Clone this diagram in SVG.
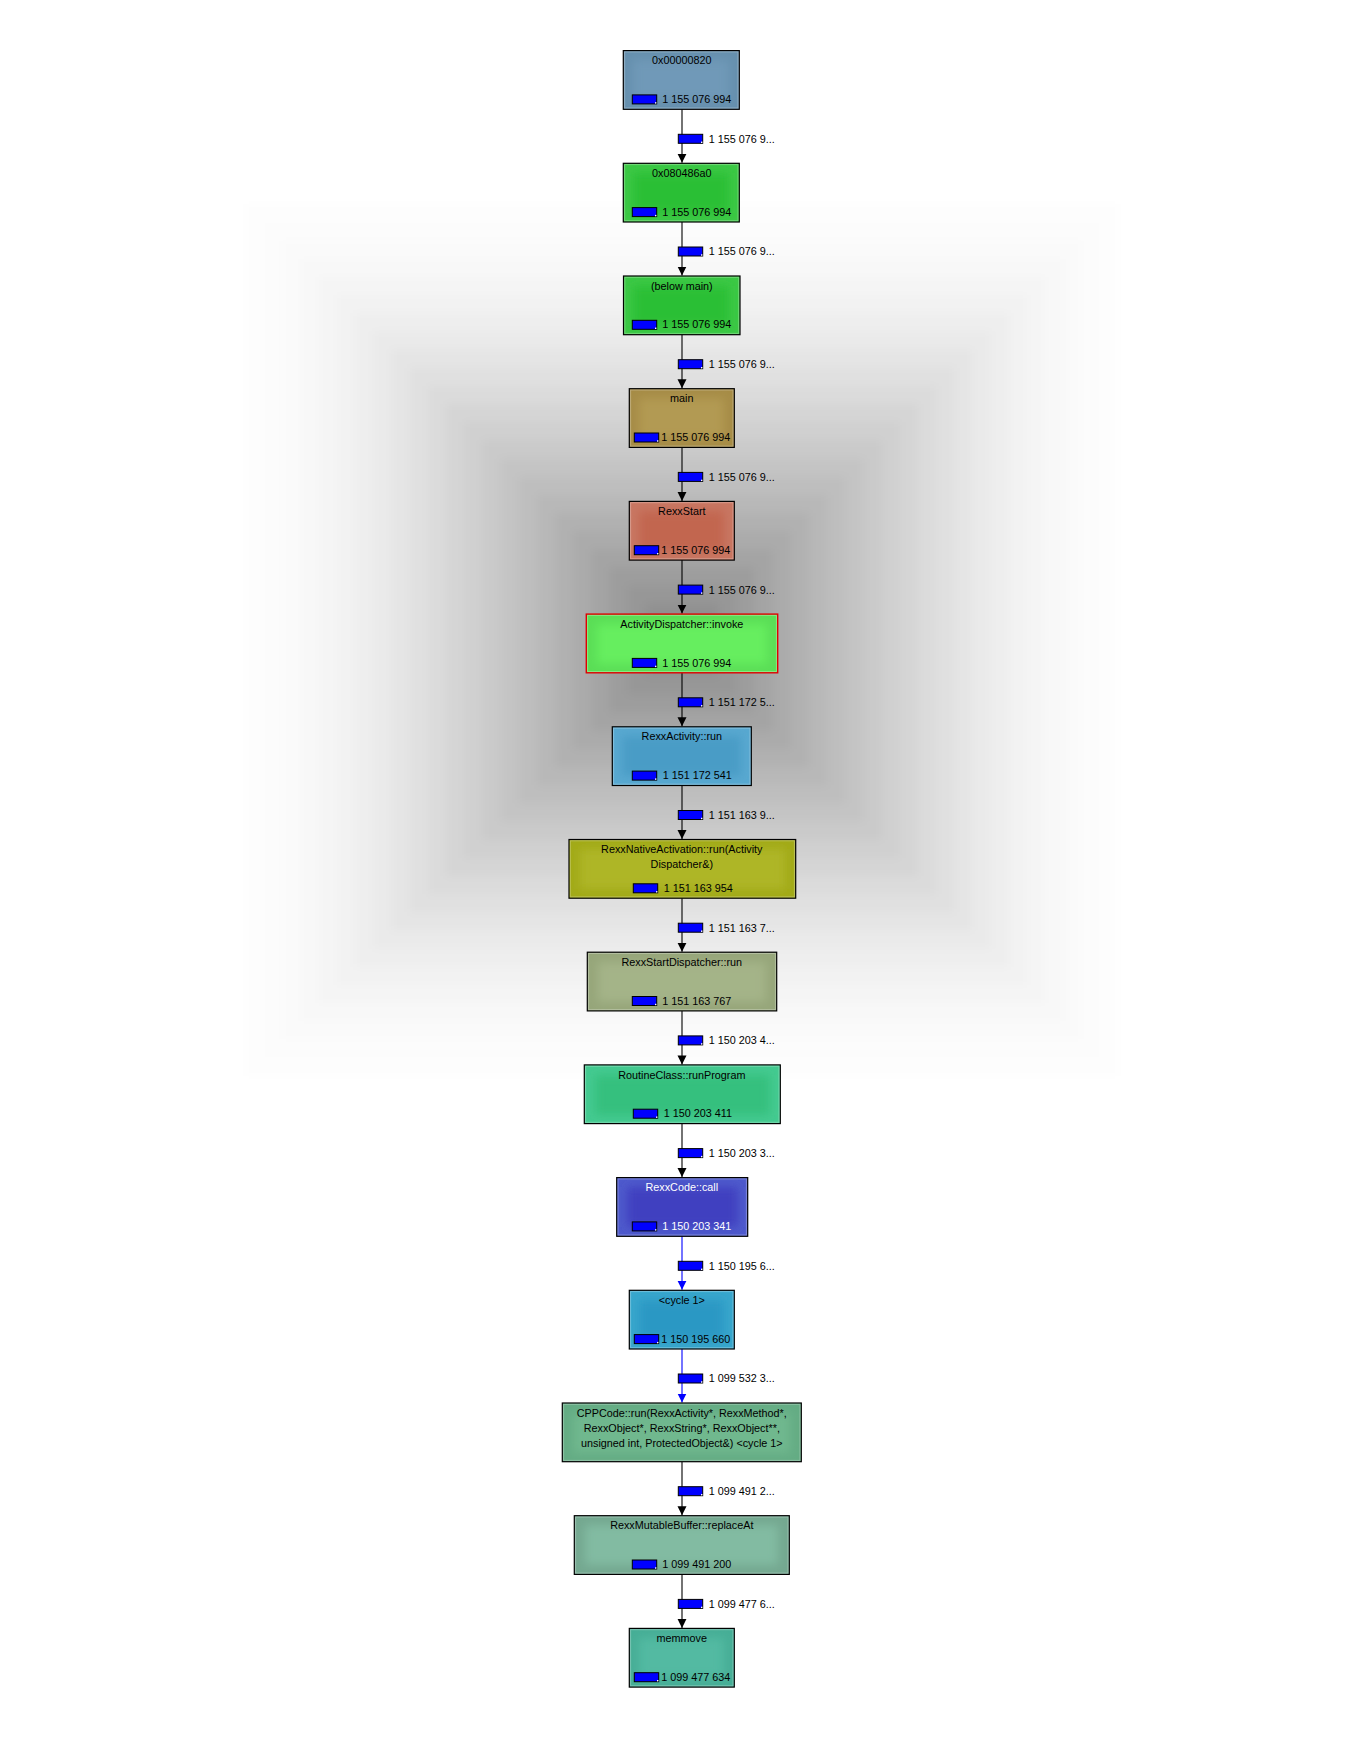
<svg xmlns="http://www.w3.org/2000/svg" width="1364" height="1739" viewBox="0 0 1364 1739">
<style>
text{font-family:"Liberation Sans",Arial,sans-serif;font-size:10.8px;fill:#000}
.t{text-anchor:middle}
.w{fill:#fff}
.box{stroke:#000;stroke-width:1.2}
.red{stroke:#e00000;stroke-width:1.4}
.hl{fill:none;stroke:#fff;stroke-opacity:.28;stroke-width:1}
.bar{fill:#0000ff;stroke:#000;stroke-width:1}
.dot{fill:#fff}
.e{stroke:#000;stroke-width:1.1;fill:none;marker-end:url(#ah)}
.eb{stroke:#0000ff;stroke-width:1.1;fill:none;marker-end:url(#ahb)}
</style>
<defs>
<filter id="blur" x="-20%" y="-20%" width="140%" height="140%"><feGaussianBlur stdDeviation="5"/></filter>
<filter id="bgb" x="-10%" y="-10%" width="120%" height="120%"><feGaussianBlur stdDeviation="5"/></filter>
<marker id="ah" markerUnits="userSpaceOnUse" markerWidth="10" markerHeight="10" refX="9" refY="4.5" orient="auto"><path d="M0,0 L9,4.5 L0,9 Z" fill="#000"/></marker>
<marker id="ahb" markerUnits="userSpaceOnUse" markerWidth="10" markerHeight="10" refX="9" refY="4.5" orient="auto"><path d="M0,0 L9,4.5 L0,9 Z" fill="#0000ff"/></marker>
</defs>
<rect width="1364" height="1739" fill="#fff"/>
<g id="background" filter="url(#bgb)" fill="#000">
<rect x="246" y="204" width="872" height="872" fill-opacity="0.0072"/>
<rect x="264.2" y="222.2" width="835.7" height="835.7" fill-opacity="0.009"/>
<rect x="282.3" y="240.3" width="799.3" height="799.3" fill-opacity="0.0108"/>
<rect x="300.5" y="258.5" width="763" height="763" fill-opacity="0.0126"/>
<rect x="318.7" y="276.7" width="726.7" height="726.7" fill-opacity="0.0144"/>
<rect x="336.8" y="294.8" width="690.3" height="690.3" fill-opacity="0.0162"/>
<rect x="355" y="313" width="654" height="654" fill-opacity="0.018"/>
<rect x="373.2" y="331.2" width="617.7" height="617.7" fill-opacity="0.0198"/>
<rect x="391.3" y="349.3" width="581.3" height="581.3" fill-opacity="0.0216"/>
<rect x="409.5" y="367.5" width="545" height="545" fill-opacity="0.0234"/>
<rect x="427.7" y="385.7" width="508.7" height="508.7" fill-opacity="0.0252"/>
<rect x="445.8" y="403.8" width="472.3" height="472.3" fill-opacity="0.027"/>
<rect x="464" y="422" width="436" height="436" fill-opacity="0.0288"/>
<rect x="482.2" y="440.2" width="399.7" height="399.7" fill-opacity="0.0306"/>
<rect x="500.3" y="458.3" width="363.3" height="363.3" fill-opacity="0.0324"/>
<rect x="518.5" y="476.5" width="327" height="327" fill-opacity="0.0342"/>
<rect x="536.7" y="494.7" width="290.7" height="290.7" fill-opacity="0.036"/>
<rect x="554.8" y="512.8" width="254.3" height="254.3" fill-opacity="0.0378"/>
<rect x="573" y="531" width="218" height="218" fill-opacity="0.0396"/>
<rect x="591.2" y="549.2" width="181.7" height="181.7" fill-opacity="0.0414"/>
<rect x="609.3" y="567.3" width="145.3" height="145.3" fill-opacity="0.0432"/>
<rect x="627.5" y="585.5" width="109" height="109" fill-opacity="0.045"/>
<rect x="645.7" y="603.7" width="72.7" height="72.7" fill-opacity="0.0468"/>
<rect x="663.8" y="621.8" width="36.3" height="36.3" fill-opacity="0.0486"/>
</g>
<g id="connectors">
<line class="e" x1="682" y1="109.3" x2="682" y2="162.8"/>
<line class="e" x1="682" y1="222" x2="682" y2="275.5"/>
<line class="e" x1="682" y1="334.7" x2="682" y2="388.2"/>
<line class="e" x1="682" y1="447.4" x2="682" y2="500.9"/>
<line class="e" x1="682" y1="560.1" x2="682" y2="613.6"/>
<line class="e" x1="682" y1="672.8" x2="682" y2="726.3"/>
<line class="e" x1="682" y1="785.5" x2="682" y2="839"/>
<line class="e" x1="682" y1="898.2" x2="682" y2="951.7"/>
<line class="e" x1="682" y1="1010.9" x2="682" y2="1064.4"/>
<line class="e" x1="682" y1="1123.6" x2="682" y2="1177.1"/>
<line class="eb" x1="682" y1="1236.3" x2="682" y2="1289.8"/>
<line class="eb" x1="682" y1="1349" x2="682" y2="1402.5"/>
<line class="e" x1="682" y1="1461.7" x2="682" y2="1515.2"/>
<line class="e" x1="682" y1="1574.4" x2="682" y2="1627.9"/>
<g id="edge-labels">
<rect class="bar" x="678.3" y="134.3" width="24.4" height="9"/><rect class="dot" x="701" y="141.6" width="1.4" height="1.4"/><text x="708.7" y="142.7">1 155 076 9...</text>
<rect class="bar" x="678.3" y="247" width="24.4" height="9"/><rect class="dot" x="701" y="254.3" width="1.4" height="1.4"/><text x="708.7" y="255.4">1 155 076 9...</text>
<rect class="bar" x="678.3" y="359.7" width="24.4" height="9"/><rect class="dot" x="701" y="367" width="1.4" height="1.4"/><text x="708.7" y="368.1">1 155 076 9...</text>
<rect class="bar" x="678.3" y="472.4" width="24.4" height="9"/><rect class="dot" x="701" y="479.7" width="1.4" height="1.4"/><text x="708.7" y="480.8">1 155 076 9...</text>
<rect class="bar" x="678.3" y="585.1" width="24.4" height="9"/><rect class="dot" x="701" y="592.4" width="1.4" height="1.4"/><text x="708.7" y="593.5">1 155 076 9...</text>
<rect class="bar" x="678.3" y="697.8" width="24.4" height="9"/><rect class="dot" x="701" y="705.1" width="1.4" height="1.4"/><text x="708.7" y="706.2">1 151 172 5...</text>
<rect class="bar" x="678.3" y="810.5" width="24.4" height="9"/><rect class="dot" x="701" y="817.8" width="1.4" height="1.4"/><text x="708.7" y="818.9">1 151 163 9...</text>
<rect class="bar" x="678.3" y="923.2" width="24.4" height="9"/><rect class="dot" x="701" y="930.5" width="1.4" height="1.4"/><text x="708.7" y="931.6">1 151 163 7...</text>
<rect class="bar" x="678.3" y="1035.9" width="24.4" height="9"/><rect class="dot" x="701" y="1043.2" width="1.4" height="1.4"/><text x="708.7" y="1044.3">1 150 203 4...</text>
<rect class="bar" x="678.3" y="1148.6" width="24.4" height="9"/><rect class="dot" x="701" y="1155.9" width="1.4" height="1.4"/><text x="708.7" y="1157">1 150 203 3...</text>
<rect class="bar" x="678.3" y="1261.3" width="24.4" height="9"/><rect class="dot" x="701" y="1268.6" width="1.4" height="1.4"/><text x="708.7" y="1269.7">1 150 195 6...</text>
<rect class="bar" x="678.3" y="1374" width="24.4" height="9"/><rect class="dot" x="701" y="1381.3" width="1.4" height="1.4"/><text x="708.7" y="1382.4">1 099 532 3...</text>
<rect class="bar" x="678.3" y="1486.7" width="24.4" height="9"/><rect class="dot" x="701" y="1494" width="1.4" height="1.4"/><text x="708.7" y="1495.1">1 099 491 2...</text>
<rect class="bar" x="678.3" y="1599.4" width="24.4" height="9"/><rect class="dot" x="701" y="1606.7" width="1.4" height="1.4"/><text x="708.7" y="1607.8">1 099 477 6...</text>
</g>
</g>
<g id="n0">
<rect class="box" x="623.3" y="50.6" width="116" height="58.7" fill="#6690ae"/>
<rect x="633" y="60" width="96" height="40" fill="#6f99b8" filter="url(#blur)"/>
<rect class="hl" x="624.6" y="51.9" width="113.4" height="56.1"/>
<text class="t" x="681.8" y="64.2">0x00000820</text>
<rect class="bar" x="632.3" y="94.9" width="24.4" height="9"/><rect class="dot" x="655" y="102.2" width="1.4" height="1.4"/>
<text x="662.3" y="103">1 155 076 994</text>
</g>
<g id="n1">
<rect class="box" x="623.3" y="163.3" width="116" height="58.7" fill="#3cc845"/>
<rect x="633" y="173" width="96" height="40" fill="#2cbf35" filter="url(#blur)"/>
<rect class="hl" x="624.6" y="164.6" width="113.4" height="56.1"/>
<text class="t" x="681.8" y="176.9">0x080486a0</text>
<rect class="bar" x="632.3" y="207.6" width="24.4" height="9"/><rect class="dot" x="655" y="214.9" width="1.4" height="1.4"/>
<text x="662.3" y="215.7">1 155 076 994</text>
</g>
<g id="n2">
<rect class="box" x="623.5" y="276" width="116.5" height="58.7" fill="#3cc845"/>
<rect x="633" y="286" width="96" height="40" fill="#2cbf35" filter="url(#blur)"/>
<rect class="hl" x="624.8" y="277.3" width="113.9" height="56.1"/>
<text class="t" x="681.8" y="289.6">(below main)</text>
<rect class="bar" x="632.3" y="320.3" width="24.4" height="9"/><rect class="dot" x="655" y="327.6" width="1.4" height="1.4"/>
<text x="662.3" y="328.4">1 155 076 994</text>
</g>
<g id="n3">
<rect class="box" x="629.3" y="388.7" width="105" height="58.7" fill="#a68c46"/>
<rect x="639" y="398" width="85" height="40" fill="#b29a52" filter="url(#blur)"/>
<rect class="hl" x="630.6" y="390" width="102.4" height="56.1"/>
<text class="t" x="681.8" y="402.3">main</text>
<rect class="bar" x="634.3" y="433" width="24.4" height="9"/><rect class="dot" x="657" y="440.3" width="1.4" height="1.4"/>
<text x="661.3" y="441.1">1 155 076 994</text>
</g>
<g id="n4">
<rect class="box" x="629.3" y="501.4" width="105" height="58.7" fill="#c87662"/>
<rect x="639" y="511" width="85" height="40" fill="#c2664f" filter="url(#blur)"/>
<rect class="hl" x="630.6" y="502.7" width="102.4" height="56.1"/>
<text class="t" x="681.8" y="515">RexxStart</text>
<rect class="bar" x="634.3" y="545.7" width="24.4" height="9"/><rect class="dot" x="657" y="553" width="1.4" height="1.4"/>
<text x="661.3" y="553.8">1 155 076 994</text>
</g>
<g id="n5">
<rect class="red" x="586.3" y="614.1" width="191.4" height="58.7" fill="#5ade56"/>
<rect x="597" y="624" width="170" height="40" fill="#66ee5e" filter="url(#blur)"/>
<rect class="hl" x="587.6" y="615.4" width="188.8" height="56.1"/>
<text class="t" x="681.8" y="627.7">ActivityDispatcher::invoke</text>
<rect class="bar" x="632.3" y="658.4" width="24.4" height="9"/><rect class="dot" x="655" y="665.7" width="1.4" height="1.4"/>
<text x="662.3" y="666.5">1 155 076 994</text>
</g>
<g id="n6">
<rect class="box" x="612.3" y="726.8" width="139" height="58.7" fill="#58a8d0"/>
<rect x="622" y="736" width="119" height="40" fill="#4a9cc6" filter="url(#blur)"/>
<rect class="hl" x="613.6" y="728.1" width="136.4" height="56.1"/>
<text class="t" x="681.8" y="740.4">RexxActivity::run</text>
<rect class="bar" x="632.3" y="771.1" width="24.4" height="9"/><rect class="dot" x="655" y="778.4" width="1.4" height="1.4"/>
<text x="662.7" y="779.2">1 151 172 541</text>
</g>
<g id="n7">
<rect class="box" x="569" y="839.5" width="226.7" height="58.7" fill="#a2aa18"/>
<rect x="580" y="849" width="205" height="40" fill="#aeb626" filter="url(#blur)"/>
<rect class="hl" x="570.3" y="840.8" width="224.1" height="56.1"/>
<text class="t" x="681.8" y="853.1">RexxNativeActivation::run(Activity</text>
<text class="t" x="681.8" y="868.1">Dispatcher&amp;)</text>
<rect class="bar" x="633.3" y="883.8" width="24.4" height="9"/><rect class="dot" x="656" y="891.1" width="1.4" height="1.4"/>
<text x="663.7" y="891.9">1 151 163 954</text>
</g>
<g id="n8">
<rect class="box" x="587.3" y="952.2" width="189.4" height="58.7" fill="#96a67a"/>
<rect x="598" y="962" width="168" height="40" fill="#a4b488" filter="url(#blur)"/>
<rect class="hl" x="588.6" y="953.5" width="186.8" height="56.1"/>
<text class="t" x="681.8" y="965.8">RexxStartDispatcher::run</text>
<rect class="bar" x="632.3" y="996.5" width="24.4" height="9"/><rect class="dot" x="655" y="1003.8" width="1.4" height="1.4"/>
<text x="662.3" y="1004.6">1 151 163 767</text>
</g>
<g id="n9">
<rect class="box" x="584.3" y="1064.9" width="196" height="58.7" fill="#44ca90"/>
<rect x="595" y="1075" width="175" height="40" fill="#36c07e" filter="url(#blur)"/>
<rect class="hl" x="585.6" y="1066.2" width="193.4" height="56.1"/>
<text class="t" x="681.8" y="1078.5">RoutineClass::runProgram</text>
<rect class="bar" x="633.3" y="1109.2" width="24.4" height="9"/><rect class="dot" x="656" y="1116.5" width="1.4" height="1.4"/>
<text x="663.7" y="1117.3">1 150 203 411</text>
</g>
<g id="n10">
<rect class="box" x="616.7" y="1177.6" width="131" height="58.7" fill="#4e5acc"/>
<rect x="627" y="1187" width="111" height="40" fill="#4040c0" filter="url(#blur)"/>
<rect class="hl" x="618" y="1178.9" width="128.4" height="56.1"/>
<text class="t w" x="681.8" y="1191.2">RexxCode::call</text>
<rect class="bar" x="632.3" y="1221.9" width="24.4" height="9"/><rect class="dot" x="655" y="1229.2" width="1.4" height="1.4"/>
<text class="w" x="662.3" y="1230">1 150 203 341</text>
</g>
<g id="n11">
<rect class="box" x="629.3" y="1290.3" width="105" height="58.7" fill="#38a6cc"/>
<rect x="639" y="1300" width="85" height="40" fill="#2c98c4" filter="url(#blur)"/>
<rect class="hl" x="630.6" y="1291.6" width="102.4" height="56.1"/>
<text class="t" x="681.8" y="1303.9">&lt;cycle 1&gt;</text>
<rect class="bar" x="634.3" y="1334.6" width="24.4" height="9"/><rect class="dot" x="657" y="1341.9" width="1.4" height="1.4"/>
<text x="661.3" y="1342.7">1 150 195 660</text>
</g>
<g id="n12">
<rect class="box" x="562.3" y="1403" width="239" height="58.7" fill="#64ac84"/>
<rect x="573" y="1413" width="217" height="40" fill="#70b88e" filter="url(#blur)"/>
<rect class="hl" x="563.6" y="1404.3" width="236.4" height="56.1"/>
<text class="t" x="681.8" y="1416.7">CPPCode::run(RexxActivity*, RexxMethod*,</text>
<text class="t" x="681.8" y="1431.7">RexxObject*, RexxString*, RexxObject**,</text>
<text class="t" x="681.8" y="1446.9">unsigned int, ProtectedObject&amp;) &lt;cycle 1&gt;</text>
</g>
<g id="n13">
<rect class="box" x="574.3" y="1515.7" width="215" height="58.7" fill="#74a890"/>
<rect x="585" y="1525" width="193" height="40" fill="#82bba2" filter="url(#blur)"/>
<rect class="hl" x="575.6" y="1517" width="212.4" height="56.1"/>
<text class="t" x="681.8" y="1529.3">RexxMutableBuffer::replaceAt</text>
<rect class="bar" x="632.3" y="1560" width="24.4" height="9"/><rect class="dot" x="655" y="1567.3" width="1.4" height="1.4"/>
<text x="662.3" y="1568.1">1 099 491 200</text>
</g>
<g id="n14">
<rect class="box" x="629.3" y="1628.4" width="105" height="58.7" fill="#46ae96"/>
<rect x="639" y="1638" width="85" height="40" fill="#52baa2" filter="url(#blur)"/>
<rect class="hl" x="630.6" y="1629.7" width="102.4" height="56.1"/>
<text class="t" x="681.8" y="1642">memmove</text>
<rect class="bar" x="634.3" y="1672.7" width="24.4" height="9"/><rect class="dot" x="657" y="1680" width="1.4" height="1.4"/>
<text x="661.3" y="1680.8">1 099 477 634</text>
</g>
</svg>
